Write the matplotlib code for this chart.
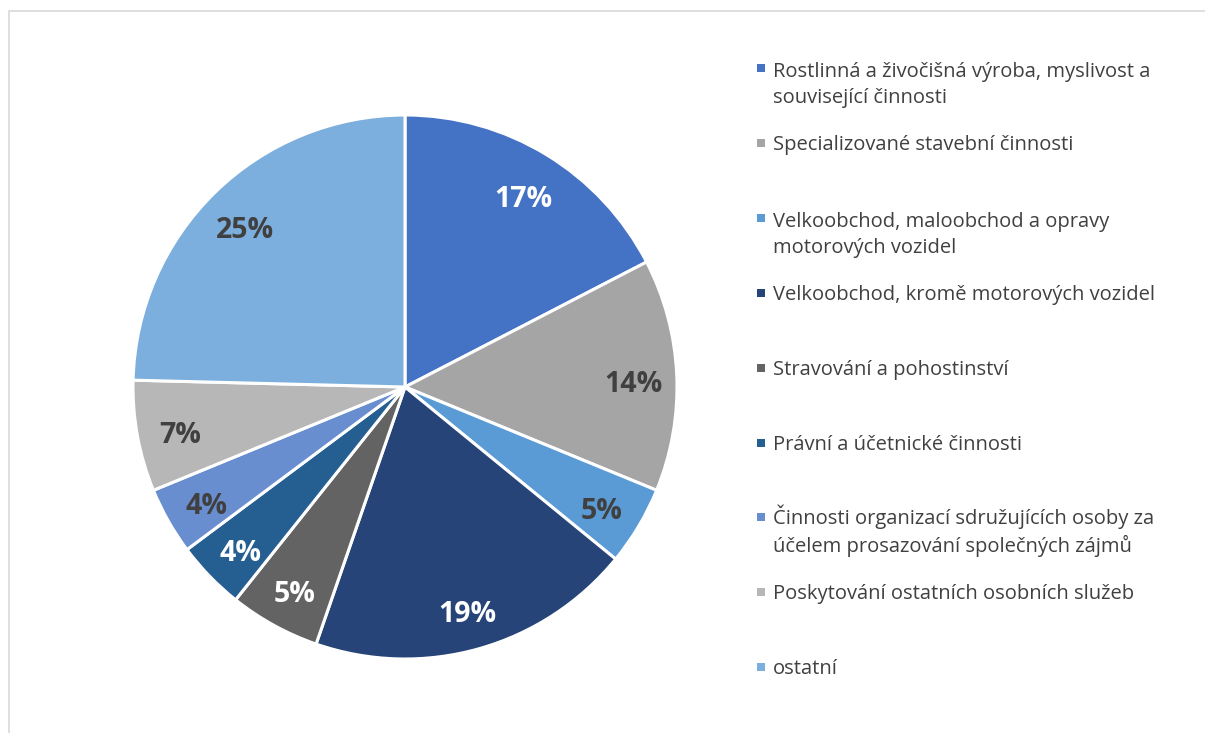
import matplotlib.pyplot as plt
from matplotlib.patches import Rectangle
import numpy as np

plt.rcParams['font.family'] = ['Open Sans', 'DejaVu Sans']

categories = [
    'Rostlinná a živočišná výroba, myslivost a\nsouvisející činnosti',
    'Specializované stavební činnosti',
    'Velkoobchod, maloobchod a opravy\nmotorových vozidel',
    'Velkoobchod, kromě motorových vozidel',
    'Stravování a pohostinství',
    'Právní a účetnické činnosti',
    'Činnosti organizací sdružujících osoby za\núčelem prosazování společných zájmů',
    'Poskytování ostatních osobních služeb',
    'ostatní',
]
shares = [17.4, 13.8, 4.7, 19.4, 5.4, 4.1, 4.0, 6.6, 24.6]
pct_labels = ['17%', '14%', '5%', '19%', '5%', '4%', '4%', '7%', '25%']

colors = ['#4472C4', '#A5A5A5', '#5B9BD5', '#264478', '#636363',
          '#255E91', '#698ED0', '#B7B7B7', '#7CAFDD']
label_colors = ['white', '#404040', '#404040', 'white', 'white',
                'white', '#404040', '#404040', '#404040']

W, H = 1205, 733
fig = plt.figure(figsize=(W / 100, H / 100), dpi=100)

# frame of the chart area (cut off at right and bottom)
fig.patches.append(Rectangle((9 / W, -0.05), 1.1, 1 - 11 / H + 0.05,
                             transform=fig.transFigure, fill=False,
                             edgecolor='#D9D9D9', linewidth=1.2))

cx, cy, r = 405, 387, 272
ax = fig.add_axes([(cx - r) / W, (H - cy - r) / H, 2 * r / W, 2 * r / H])
wedges, _ = ax.pie(shares, colors=colors, startangle=90, counterclock=False,
                   radius=1, wedgeprops=dict(edgecolor='white', linewidth=2.2))
ax.set_xlim(-1, 1)
ax.set_ylim(-1, 1)
ax.set_aspect('equal')
ax.axis('off')

total = sum(shares)
ang = 90.0
for w, lab, col in zip(shares, pct_labels, label_colors):
    mid = np.deg2rad(ang - w / total * 360 / 2)
    ang -= w / total * 360
    ax.text(0.84 * np.cos(mid), 0.84 * np.sin(mid) - 0.027, lab,
            ha='center', va='center', fontsize=20.5, fontweight='bold', color=col)

# legend, drawn by hand to keep the original spacing
y0, step, line_h = 68, 74.9, 28
for i, (name, col) in enumerate(zip(categories, colors)):
    y = y0 + i * step
    fig.patches.append(Rectangle((757 / W, (H - y - 4) / H), 8 / W, 8 / H,
                                 transform=fig.transFigure, facecolor=col,
                                 edgecolor='none'))
    # va='baseline' sits on the last line, so push multi-line names down
    extra = (name.count('\n')) * line_h
    fig.text(773 / W, (H - y - 7 - extra) / H, name, ha='left', va='baseline',
             fontsize=14.5, color='#404040', linespacing=1.38)

fig.savefig('out.png', dpi=100)
